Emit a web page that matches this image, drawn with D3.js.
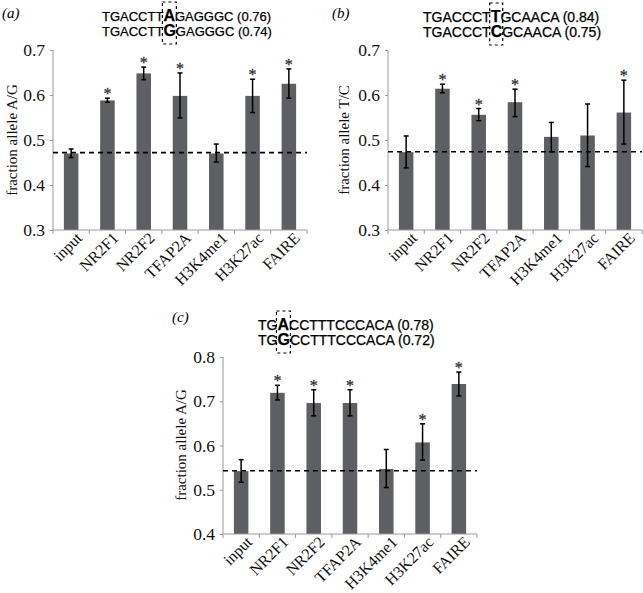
<!DOCTYPE html>
<html>
<head>
<meta charset="utf-8">
<script src="https://cdn.jsdelivr.net/npm/d3@7"></script>
<style>
  body { margin: 0; background: #fff; }
  .tick text { font-family: "Liberation Serif", "Times New Roman", serif; }
</style>
</head>
<body>
<svg id="chart"></svg>
<script>
// Categories shared by the three panels
var categories = ["input", "NR2F1", "NR2F2", "TFAP2A", "H3K4me1", "H3K27ac", "FAIRE"];

// Panel (a)
var valuesA = [0.470, 0.588, 0.648, 0.598, 0.470, 0.598, 0.625];
var lowA = [0.461, 0.584, 0.634, 0.549, 0.451, 0.561, 0.593];
var highA = [0.480, 0.593, 0.662, 0.649, 0.491, 0.635, 0.658];
var starsA = [false, true, true, true, false, true, true];
var refA = 0.472;
var ticksA = [0.3, 0.4, 0.5, 0.6, 0.7];
var seqA = [["TGACCTT", "A", "GAGGGC (0.76)"], ["TGACCTT", "G", "GAGGGC (0.74)"]];

// Panel (b)
var valuesB = [0.473, 0.614, 0.556, 0.584, 0.507, 0.510, 0.561];
var lowB = [0.438, 0.605, 0.543, 0.552, 0.474, 0.441, 0.491];
var highB = [0.509, 0.624, 0.570, 0.613, 0.539, 0.580, 0.633];
var starsB = [false, true, true, true, false, false, true];
var refB = 0.474;
var ticksB = [0.3, 0.4, 0.5, 0.6, 0.7];
var seqB = [["TGACCCT", "T", "GCAACA (0.84)"], ["TGACCCT", "C", "GCAACA (0.75)"]];

// Panel (c)
var valuesC = [0.542, 0.719, 0.696, 0.696, 0.547, 0.607, 0.739];
var lowC = [0.517, 0.703, 0.667, 0.667, 0.505, 0.567, 0.712];
var highC = [0.568, 0.736, 0.726, 0.726, 0.591, 0.649, 0.766];
var starsC = [false, true, true, true, false, true, true];
var refC = 0.543;
var ticksC = [0.4, 0.5, 0.6, 0.7, 0.8];
var seqC = [["TG", "A", "CCTTTCCCACA (0.78)"], ["TG", "G", "CCTTTCCCACA (0.72)"]];

var svg = d3.select("#chart").attr("width", 643).attr("height", 593);

var serif = "'Liberation Serif', 'Times New Roman', serif";
var sans = "'Liberation Sans', Arial, sans-serif";
var barColor = "#5e5f62";
var axisColor = "#9a9a9a";

function drawPanel(p) {
    var x = d3.scaleBand().domain(categories).range([p.x0, p.x1])
        .paddingInner(0.6).paddingOuter(0.3);
    var y = d3.scaleLinear().domain(p.domain).range([p.yBot, p.yTop]);
    var g = svg.append("g");

    var rows = categories.map(function (c, i) {
        return { cat: c, v: p.values[i], lo: p.low[i], hi: p.high[i], star: p.stars[i] };
    });

    // bars
    g.selectAll(".bar").data(rows).enter().append("rect")
        .attr("x", function (d) { return x(d.cat); })
        .attr("width", x.bandwidth())
        .attr("y", function (d) { return y(d.v); })
        .attr("height", function (d) { return y(p.domain[0]) - y(d.v); })
        .attr("fill", barColor);

    // y axis
    var yAxis = d3.axisLeft(y).tickValues(p.ticks).tickFormat(d3.format(".1f"))
        .tickSize(3).tickPadding(5);
    var ya = g.append("g").attr("transform", "translate(" + p.x0 + ",0)").call(yAxis);
    ya.select(".domain").attr("stroke", axisColor).attr("d", "M0," + p.yTop + "V" + p.yBot);
    ya.selectAll(".tick line").attr("stroke", axisColor);
    ya.selectAll(".tick text").attr("font-size", 17.5).attr("fill", "#111");

    // x axis with ticks between categories
    var step = x.step();
    g.append("line").attr("x1", p.x0).attr("x2", p.x1)
        .attr("y1", p.yBot).attr("y2", p.yBot).attr("stroke", axisColor);
    g.selectAll(".xt").data(d3.range(categories.length + 1)).enter().append("line")
        .attr("x1", function (i) { return p.x0 + i * step; })
        .attr("x2", function (i) { return p.x0 + i * step; })
        .attr("y1", p.yBot).attr("y2", p.yBot + 4).attr("stroke", axisColor);
    g.selectAll(".xl").data(categories).enter().append("text")
        .attr("transform", function (c) {
            return "translate(" + (x(c) + x.bandwidth() / 2 + 12) + "," + (p.yBot + 9) + ") rotate(-45)";
        })
        .attr("text-anchor", "end")
        .attr("font-family", serif).attr("font-size", 16).attr("fill", "#111")
        .text(function (c) { return c; });

    // reference dashed line
    g.append("line").attr("x1", p.x0).attr("x2", p.x1)
        .attr("y1", y(p.ref)).attr("y2", y(p.ref))
        .attr("stroke", "#000").attr("stroke-width", 1.6).attr("stroke-dasharray", "5,4");

    // error bars
    var eb = g.selectAll(".err").data(rows).enter().append("g")
        .attr("transform", function (d) { return "translate(" + (x(d.cat) + x.bandwidth() / 2) + ",0)"; });
    eb.append("line").attr("y1", function (d) { return y(d.lo); })
        .attr("y2", function (d) { return y(d.hi); })
        .attr("stroke", "#000").attr("stroke-width", 1.5);
    eb.append("line").attr("x1", -2.5).attr("x2", 2.5)
        .attr("y1", function (d) { return y(d.lo); }).attr("y2", function (d) { return y(d.lo); })
        .attr("stroke", "#000").attr("stroke-width", 1.5);
    eb.append("line").attr("x1", -2.5).attr("x2", 2.5)
        .attr("y1", function (d) { return y(d.hi); }).attr("y2", function (d) { return y(d.hi); })
        .attr("stroke", "#000").attr("stroke-width", 1.5);
    eb.filter(function (d) { return d.star; }).append("text")
        .attr("y", function (d) { return y(d.hi) + 1; })
        .attr("text-anchor", "middle")
        .attr("font-family", serif).attr("font-size", 16)
        .attr("fill", "#333").attr("stroke", "#333").attr("stroke-width", 0.3)
        .text("*");

    // y label
    g.append("text")
        .attr("transform", "translate(" + p.labX + "," + p.labY + ") rotate(-90)")
        .attr("text-anchor", "middle")
        .attr("font-family", serif).attr("font-size", 15).attr("fill", "#111")
        .text(p.ylabel);

    // panel letter
    g.append("text").attr("x", p.tagX).attr("y", p.tagY)
        .attr("font-family", serif).attr("font-style", "italic").attr("font-size", 15)
        .text(p.tag);

    // sequences with the variant in a dashed box
    var boxes = [];
    p.seq.forEach(function (s, i) {
        var t = g.append("text").attr("x", p.seqX).attr("y", p.seqY + i * 14.5)
            .attr("font-family", sans).attr("font-size", p.seqSize)
            .attr("fill", "#000").attr("stroke", "#000").attr("stroke-width", 0.25);
        t.append("tspan").text(s[0]);
        t.append("tspan").attr("font-weight", "bold").attr("font-size", 16).text(s[1]);
        t.append("tspan").text(s[2]);
        var n = s[0].length;
        var node = t.node();
        boxes.push([node.getStartPositionOfChar(n).x, node.getEndPositionOfChar(n).x]);
    });
    var bx0 = d3.min(boxes, function (b) { return b[0]; }) - 1;
    var bx1 = d3.max(boxes, function (b) { return b[1]; }) + 0.5;
    g.append("rect").attr("x", bx0).attr("y", p.seqY - 19)
        .attr("width", bx1 - bx0).attr("height", 42)
        .attr("fill", "none").attr("stroke", "#000").attr("stroke-width", 1.2)
        .attr("stroke-dasharray", "3,3");
}

drawPanel({
    values: valuesA, low: lowA, high: highA, stars: starsA, ref: refA, ticks: ticksA, seq: seqA,
    domain: [0.3, 0.7], x0: 53, x1: 307, yTop: 50, yBot: 230,
    ylabel: "fraction allele A/G", labX: 17, labY: 140, tag: "(a)", tagX: 2, tagY: 18,
    seqX: 102, seqY: 21, seqSize: 13
});
drawPanel({
    values: valuesB, low: lowB, high: highB, stars: starsB, ref: refB, ticks: ticksB, seq: seqB,
    domain: [0.3, 0.7], x0: 388, x1: 642, yTop: 50, yBot: 230,
    ylabel: "fraction allele T/C", labX: 349, labY: 140, tag: "(b)", tagX: 332, tagY: 18,
    seqX: 423, seqY: 22, seqSize: 14
});
drawPanel({
    values: valuesC, low: lowC, high: highC, stars: starsC, ref: refC, ticks: ticksC, seq: seqC,
    domain: [0.4, 0.8], x0: 223, x1: 477, yTop: 357, yBot: 534,
    ylabel: "fraction allele A/G", labX: 186, labY: 445, tag: "(c)", tagX: 172, tagY: 322,
    seqX: 258, seqY: 330, seqSize: 14
});
</script>
</body>
</html>
